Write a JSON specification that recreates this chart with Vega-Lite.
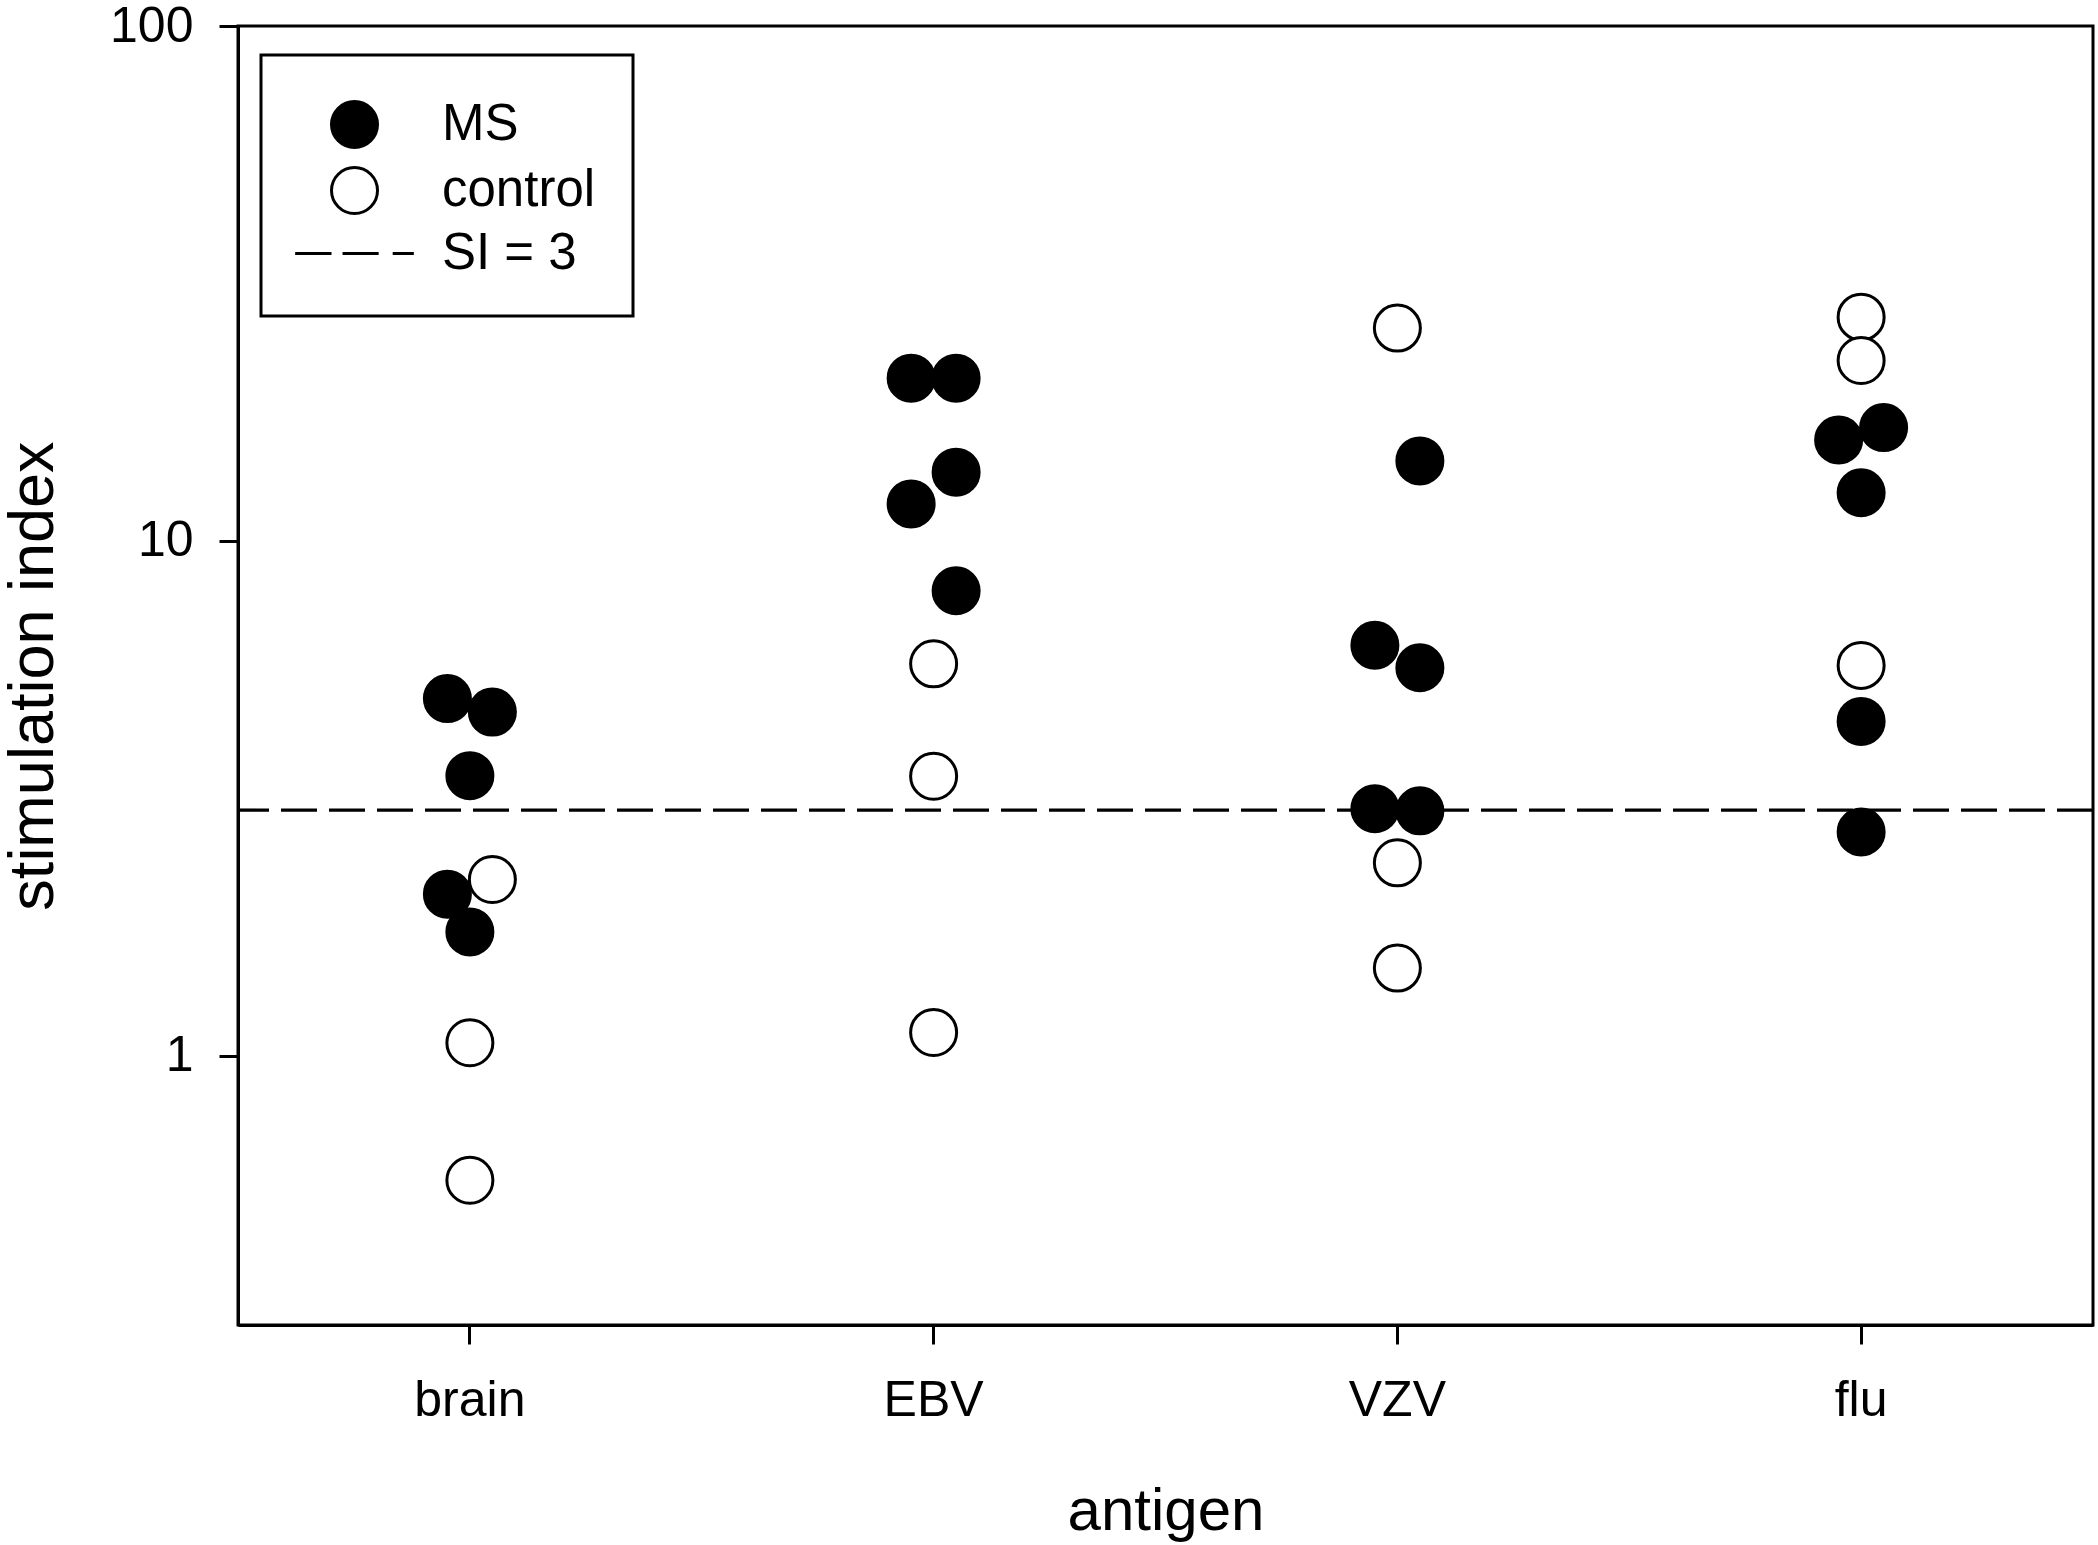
{
  "$schema": "https://vega.github.io/schema/vega-lite/v6.json",
  "width": 1855,
  "height": 1299,
  "autosize": "none",
  "padding": {"left": 238, "top": 26, "right": 5, "bottom": 220},
  "background": "white",
  "layer": [
    {
      "data": {"values": [{"series": "SI = 3", "threshold": 3}]},
      "mark": {"type": "rule", "stroke": "black", "strokeWidth": 3.3, "strokeDash": [36, 12]},
      "encoding": {
        "y": {"field": "threshold", "type": "quantitative", "scale": {"type": "log", "domain": [0.3, 100], "nice": false}}
      }
    },
    {
      "data": {
        "values": [
          {"antigen": "brain", "group": "MS", "lane": "a", "si": 4.94},
          {"antigen": "brain", "group": "MS", "lane": "c", "si": 4.65},
          {"antigen": "brain", "group": "MS", "lane": "b", "si": 3.5},
          {"antigen": "brain", "group": "MS", "lane": "a", "si": 2.06},
          {"antigen": "brain", "group": "MS", "lane": "b", "si": 1.74},
          {"antigen": "EBV", "group": "MS", "lane": "a", "si": 20.7},
          {"antigen": "EBV", "group": "MS", "lane": "c", "si": 20.7},
          {"antigen": "EBV", "group": "MS", "lane": "c", "si": 13.6},
          {"antigen": "EBV", "group": "MS", "lane": "a", "si": 11.8},
          {"antigen": "EBV", "group": "MS", "lane": "c", "si": 8.0},
          {"antigen": "VZV", "group": "MS", "lane": "c", "si": 14.3},
          {"antigen": "VZV", "group": "MS", "lane": "a", "si": 6.27},
          {"antigen": "VZV", "group": "MS", "lane": "c", "si": 5.67},
          {"antigen": "VZV", "group": "MS", "lane": "a", "si": 3.02},
          {"antigen": "VZV", "group": "MS", "lane": "c", "si": 2.99},
          {"antigen": "flu", "group": "MS", "lane": "c", "si": 16.6},
          {"antigen": "flu", "group": "MS", "lane": "a", "si": 15.7},
          {"antigen": "flu", "group": "MS", "lane": "b", "si": 12.4},
          {"antigen": "flu", "group": "MS", "lane": "b", "si": 4.46},
          {"antigen": "flu", "group": "MS", "lane": "b", "si": 2.72},
          {"antigen": "brain", "group": "control", "lane": "c", "si": 2.2},
          {"antigen": "brain", "group": "control", "lane": "b", "si": 1.06},
          {"antigen": "brain", "group": "control", "lane": "b", "si": 0.573},
          {"antigen": "EBV", "group": "control", "lane": "b", "si": 5.77},
          {"antigen": "EBV", "group": "control", "lane": "b", "si": 3.49},
          {"antigen": "EBV", "group": "control", "lane": "b", "si": 1.11},
          {"antigen": "VZV", "group": "control", "lane": "b", "si": 25.9},
          {"antigen": "VZV", "group": "control", "lane": "b", "si": 2.37},
          {"antigen": "VZV", "group": "control", "lane": "b", "si": 1.48},
          {"antigen": "flu", "group": "control", "lane": "b", "si": 27.2},
          {"antigen": "flu", "group": "control", "lane": "b", "si": 22.4},
          {"antigen": "flu", "group": "control", "lane": "b", "si": 5.73}
        ]
      },
      "mark": {"type": "point", "filled": true, "opacity": 1, "stroke": "black", "strokeWidth": 3, "size": 2116},
      "encoding": {
        "x": {
          "field": "antigen",
          "type": "nominal",
          "sort": ["brain", "EBV", "VZV", "flu"],
          "scale": {"type": "band", "paddingInner": 0.903, "paddingOuter": 0.4515},
          "axis": {"title": "antigen", "labelAngle": 0, "labelPadding": 31, "titlePadding": 57}
        },
        "xOffset": {
          "field": "lane",
          "type": "nominal",
          "sort": ["a", "b", "c"],
          "scale": {"paddingInner": 0, "paddingOuter": 0}
        },
        "y": {
          "field": "si",
          "type": "quantitative",
          "scale": {"type": "log", "domain": [0.3, 100], "nice": false},
          "axis": {"title": "stimulation index", "titleFontSize": 63, "values": [1, 10, 100], "format": "d", "labelPadding": 26, "titlePadding": 44}
        },
        "fill": {
          "field": "group",
          "type": "nominal",
          "scale": {"domain": ["MS", "control", "SI = 3"], "range": ["black", "white", "transparent"]},
          "legend": {
            "title": " ",
            "titleFontSize": 1,
            "titlePadding": 6,
            "orient": "none",
            "legendX": 23,
            "legendY": 29,
            "symbolSize": 2116,
            "symbolStrokeWidth": 3,
            "symbolStrokeColor": "black",
            "symbolOpacity": 1,
            "symbolOffset": 31,
            "labelFont": "Liberation Sans",
            "labelFontSize": 51,
            "labelColor": "black",
            "labelOffset": 62,
            "rowPadding": 7,
            "padding": 37,
            "strokeColor": "black",
            "encode": {"legend": {"update": {"strokeWidth": {"value": 3}}}}
          }
        },
        "shape": {
          "field": "group",
          "type": "nominal",
          "scale": {
            "domain": ["MS", "control", "SI = 3"],
            "range": ["circle", "circle", "M-2.58,0H-1M-0.52,0H1.05M1.66,0H2.58"]
          }
        }
      }
    }
  ],
  "config": {
    "font": "Liberation Sans",
    "view": {"stroke": "black", "strokeWidth": 3},
    "axis": {
      "grid": false,
      "domainColor": "black",
      "domainWidth": 3,
      "tickColor": "black",
      "tickWidth": 3,
      "tickSize": 19,
      "labelFont": "Liberation Sans",
      "labelFontSize": 50,
      "labelColor": "black",
      "titleFont": "Liberation Sans",
      "titleFontSize": 60,
      "titleFontWeight": "normal",
      "titleColor": "black"
    }
  }
}
